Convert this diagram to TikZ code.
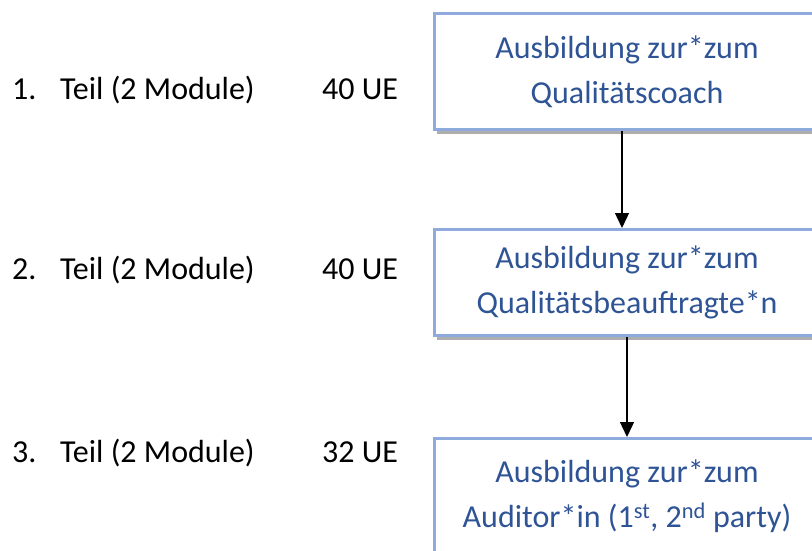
\documentclass[tikz,border=0pt]{standalone}
\usepackage{fontspec}
\setmainfont{Carlito}
\usetikzlibrary{arrows.meta,positioning,shadows}
\definecolor{boxline}{HTML}{8FAADC}
\definecolor{boxtext}{HTML}{2F5496}

\begin{document}
\begin{tikzpicture}[x=1pt,y=1pt,>={Triangle[length=15pt,width=14pt]},
      stage/.style={draw=boxline,line width=3pt,fill=white,text=boxtext,align=center,
        minimum width=386pt,font=\fontsize{32}{45}\selectfont,
        drop shadow={shadow xshift=3pt,shadow yshift=-4pt,opacity=.45,fill=black!70}},
      part/.style={anchor=base west,inner sep=0pt,font=\fontsize{32}{38}\selectfont}]
    \useasboundingbox (0,0) rectangle (812,-551);
    \clip (0,0) rectangle (812,-551);
    % left column
    \node[part] at (12,-99.3) (n1) {1.};  \node[part] at (60,-99.3) (t1) {Teil (2 Module)};  \node[part] at (322,-99.3) (u1) {40 UE};
    \node[part] at (12,-279) (n2) {2.};   \node[part] at (60,-279) (t2) {Teil (2 Module)};   \node[part] at (322,-279) (u2) {40 UE};
    \node[part] at (12,-462.7) (n3) {3.}; \node[part] at (60,-462.7) (t3) {Teil (2 Module)}; \node[part] at (322,-462.7) (u3) {32 UE};
    % boxes
    \node[stage,minimum height=116pt] at (627,-71.5) (q1) {Ausbildung zur*zum\\Qualitätscoach};
    \node[stage,minimum height=106pt] at (627,-282.5) (q2) {Ausbildung zur*zum\\Qualitätsbeauftragte*n};
    \node[stage,minimum height=116pt] at (627,-496.5) (q3) {Ausbildung zur*zum\\Auditor*in (1\textsuperscript{st}, 2\textsuperscript{nd} party)};
    \draw[line width=1.3pt,->] ([xshift=-5pt]q1.south) -- ([xshift=-5pt]q2.north);
    \draw[line width=1.3pt,->] (q2.south) -- (q3.north);
\end{tikzpicture}
\end{document}
